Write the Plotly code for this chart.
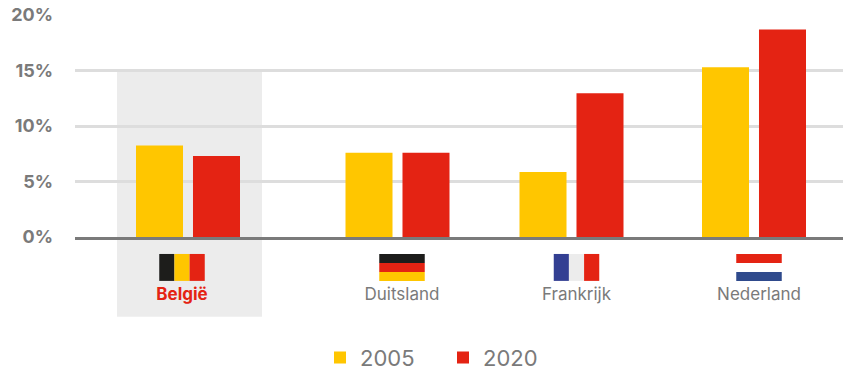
import plotly.graph_objects as go

categories = ["België", "Duitsland", "Frankrijk", "Nederland"]
values_2005 = [8.25, 7.6, 5.85, 15.3]
values_2020 = [7.3, 7.6, 12.95, 18.7]
y_ticks = [0, 5, 10, 15, 20]
y_labels = ["0%", "5%", "10%", "15%", "20%"]

# layout constants (axis units equal pixels of the page)
group_pos = [188, 397.5, 571.5, 754]
label_pos = [182, 402, 576.5, 759]
FONT = "Inter, Noto Sans, sans-serif"
GREY = "#7a7a7a"
YELLOW = "#ffc600"
RED = "#e42313"
BLACK = "#1d1d1b"
BLUE_FR = "#333f92"
BLUE_NL = "#2f4a8c"
W, H = 843, 370
M_L, M_T, AX_BOTTOM = 75, 14.5, 237
FLAG_W, FLAG_TOP, FLAG_BOTTOM = 45.5, 254, 281


def py(p):
    return (AX_BOTTOM - p) / (AX_BOTTOM - M_T)


flag_stripes = {
    "België": ("v", [BLACK, YELLOW, RED]),
    "Duitsland": ("h", [BLACK, RED, YELLOW]),
    "Frankrijk": ("v", [BLUE_FR, "#ececec", RED]),
    "Nederland": ("h", [RED, "#ffffff", BLUE_NL]),
}

shapes = [dict(type="rect", xref="x", yref="paper", x0=117, x1=262, y0=py(70), y1=py(317),
               fillcolor="#ececec", line_width=0, layer="below")]
for name, cx in zip(categories, label_pos):
    orient, cols = flag_stripes[name]
    x0 = cx - FLAG_W / 2
    for i, c in enumerate(cols):
        if orient == "v":
            a, b = x0 + FLAG_W * i / 3, x0 + FLAG_W * (i + 1) / 3
            t, u = FLAG_TOP, FLAG_BOTTOM
        else:
            a, b = x0, x0 + FLAG_W
            t = FLAG_TOP + (FLAG_BOTTOM - FLAG_TOP) * i / 3
            u = FLAG_TOP + (FLAG_BOTTOM - FLAG_TOP) * (i + 1) / 3
        shapes.append(dict(type="rect", xref="x", yref="paper", x0=a, x1=b, y0=py(u), y1=py(t),
                           fillcolor=c, line_width=0, layer="above"))

tick_text = [f'<b><span style="color:{RED}">{c}</span></b>' if i == 0 else c
             for i, c in enumerate(categories)]

fig = go.Figure()
fig.add_bar(name="2005", x=group_pos, y=values_2005, marker=dict(color=YELLOW, line_width=0))
fig.add_bar(name="2020", x=group_pos, y=values_2020, marker=dict(color=RED, line_width=0))

fig.update_layout(
    width=W, height=H,
    margin=dict(l=M_L, r=0, t=M_T, b=H - AX_BOTTOM, autoexpand=False),
    paper_bgcolor="white", plot_bgcolor="rgba(0,0,0,0)",
    barmode="group", bargap=0.345, bargroupgap=0.175,
    font=dict(family=FONT, color=GREY),
    shapes=shapes,
    xaxis=dict(range=[M_L, W], tickmode="array", tickvals=label_pos, ticktext=tick_text,
               showgrid=False, zeroline=False, showline=True, linecolor=GREY, linewidth=3,
               layer="above traces", ticks="", ticklabelstandoff=40,
               tickfont=dict(size=17, family=FONT, color=GREY)),
    yaxis=dict(range=[0, 20], tickmode="array", tickvals=y_ticks, ticktext=[f"<b>{s}</b>" for s in y_labels],
               showgrid=True, gridcolor="#dddddd", gridwidth=3, zeroline=False, showline=False,
               ticks="", ticklabelstandoff=21,
               tickfont=dict(size=18, family=FONT, color=GREY)),
    legend=dict(orientation="h", x=(320 - M_L) / (W - M_L), xanchor="left", xref="paper", y=py(358), yanchor="middle",
                yref="paper", font=dict(size=22, family=FONT, color=GREY), itemclick=False,
                itemdoubleclick=False, traceorder="normal", bgcolor="rgba(0,0,0,0)",
                entrywidth=78, entrywidthmode="pixels"),
    showlegend=True,
)
fig.write_html("out.html", config={"displayModeBar": False},
               post_script="document.body.style.margin='0';document.documentElement.style.overflow='hidden';")
